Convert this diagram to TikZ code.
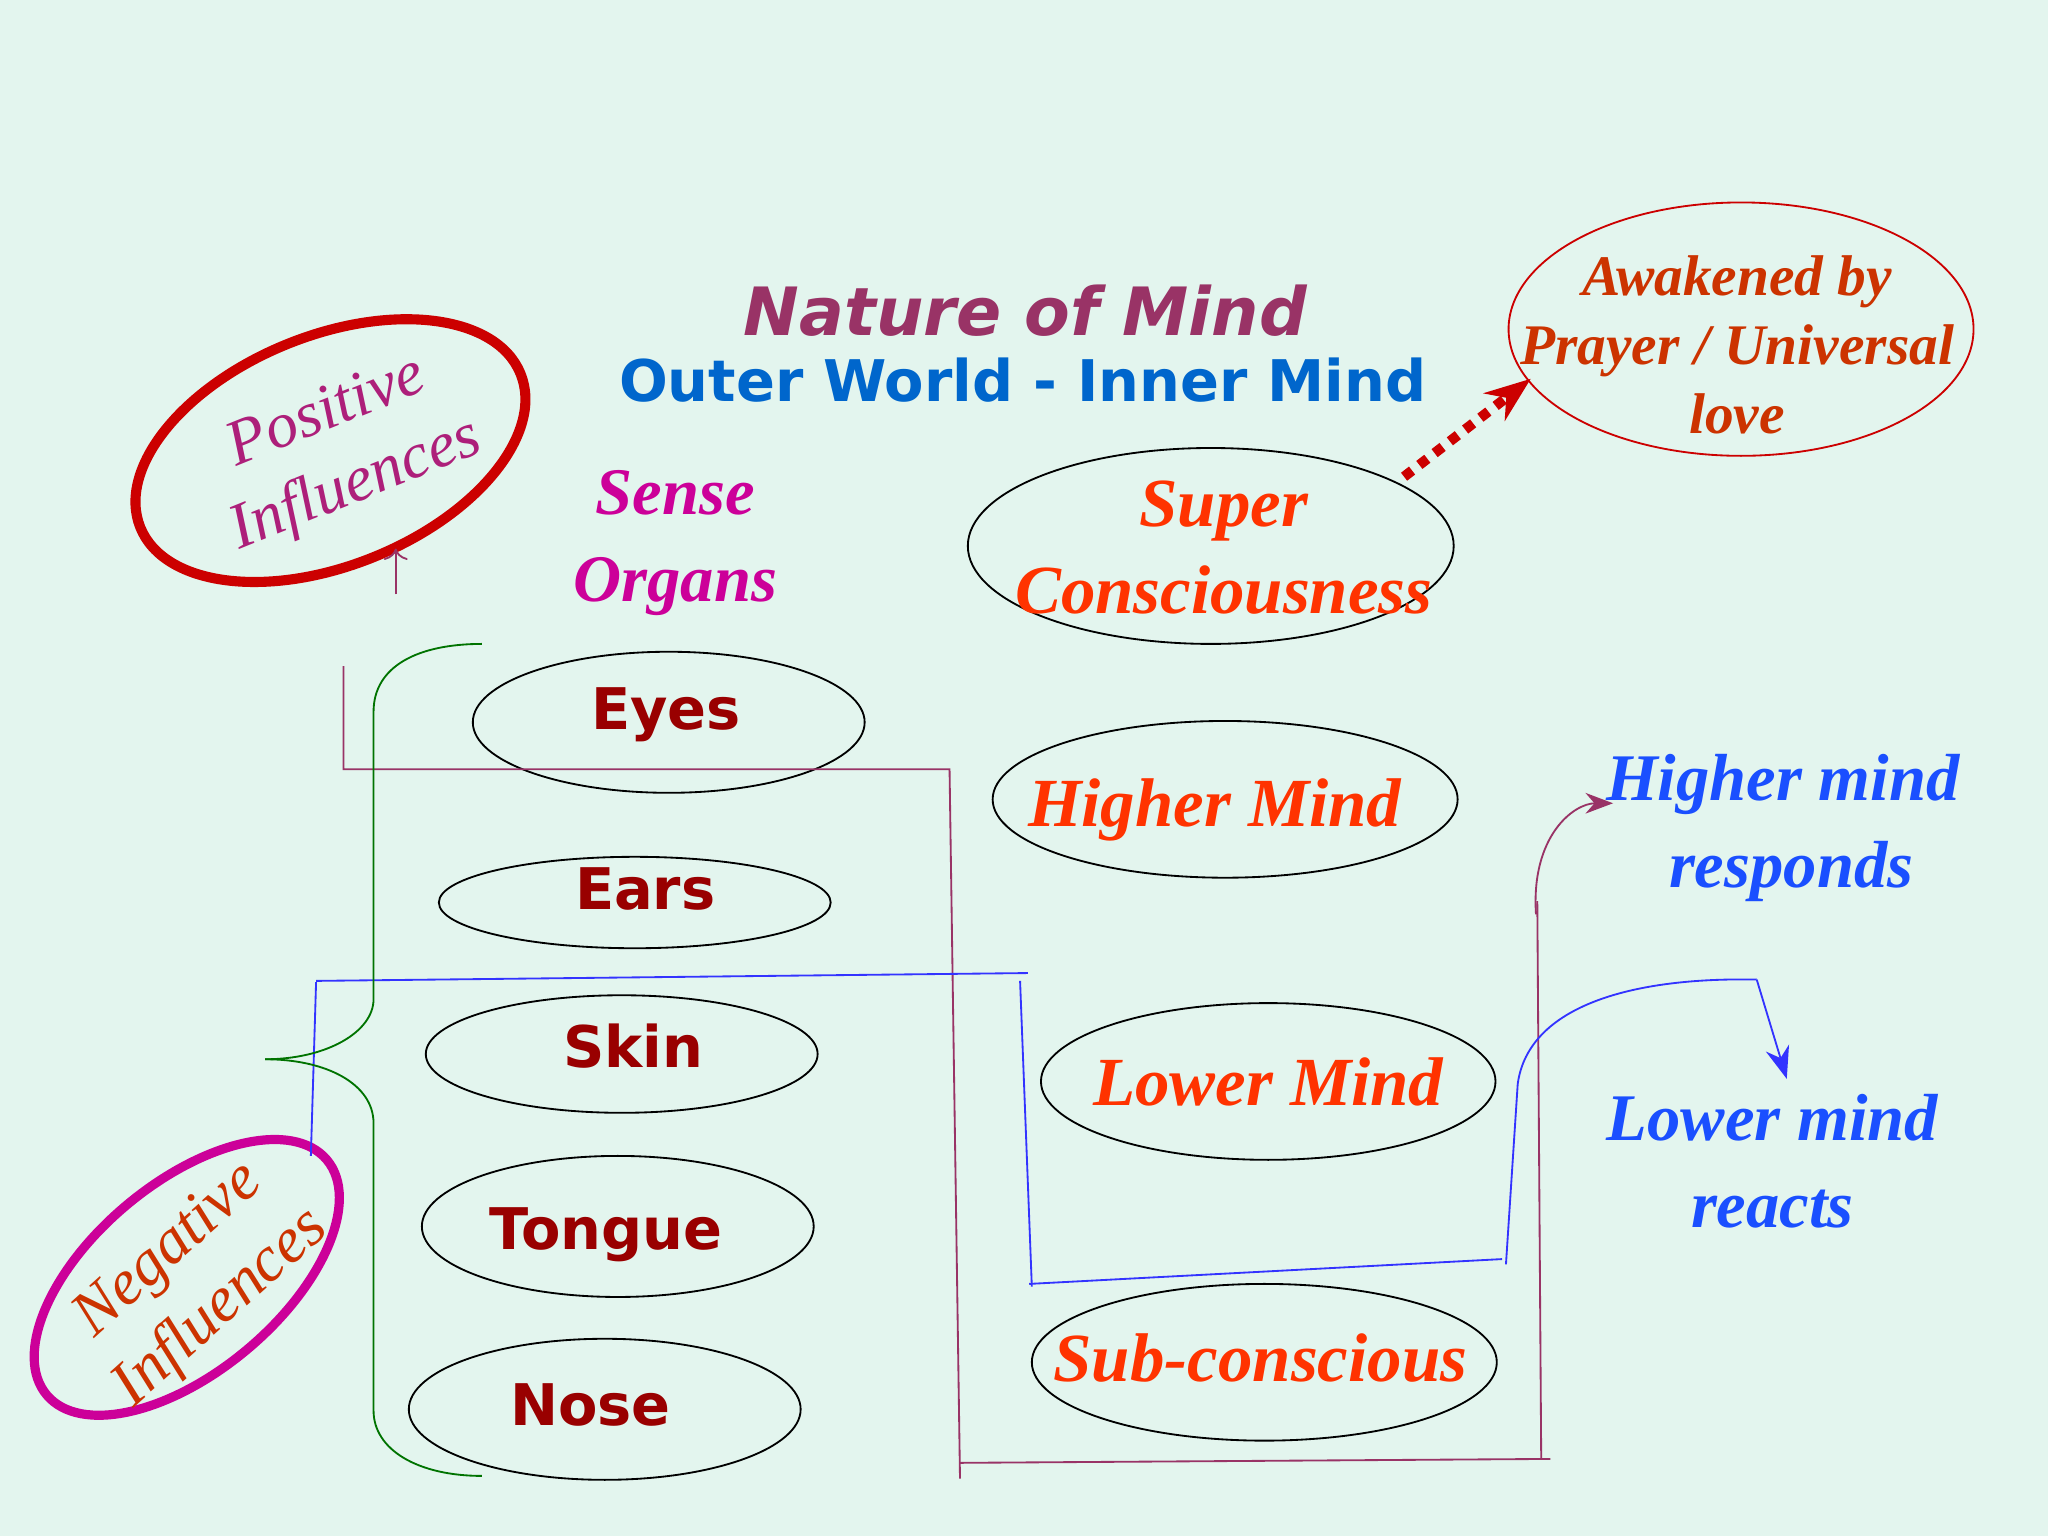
\documentclass[tikz,border=0pt]{standalone}
\usepackage{fontspec}
\setmainfont{Liberation Serif}
\newfontfamily\dv{DejaVu Sans}
\usetikzlibrary{arrows.meta}
\definecolor{bg}{HTML}{E3F5EE}
\definecolor{ttl}{HTML}{993366}
\definecolor{sub}{HTML}{0066CC}
\definecolor{org}{HTML}{990000}
\definecolor{mind}{HTML}{FF3300}
\definecolor{resp}{HTML}{1A4FFF}
\definecolor{awk}{HTML}{CC3300}
\definecolor{sens}{HTML}{CC0099}
\begin{document}
\begin{tikzpicture}[x=0.01cm,y=-0.01cm,
  organ/.style={font=\dv\bfseries\fontsize{12.5}{14}\selectfont,text=org},
  mindt/.style={font=\bfseries\itshape\fontsize{15}{18}\selectfont,text=mind},
  respt/.style={font=\bfseries\itshape\fontsize{14.5}{18}\selectfont,text=resp,align=center},
]
\fill[bg] (0,0) rectangle (1568,1176);
\useasboundingbox (0,0) rectangle (1568,1176);
% ellipses
\draw[draw=red!80!black,line width=2.2pt,rotate around={22:(253,345)}] (253,345) ellipse [x radius=157,y radius=88];
\draw[draw=sens,line width=2pt,rotate around={40:(143,978)}] (143,978) ellipse [x radius=140,y radius=72];
\draw[draw=red!80!black,thin] (1333,252) ellipse [x radius=178,y radius=97];
\draw[thin] (927,418) ellipse [x radius=186,y radius=75];
\draw[thin] (938,612) ellipse [x radius=178,y radius=60];
\draw[thin] (971,828) ellipse [x radius=174,y radius=60];
\draw[thin] (968,1043) ellipse [x radius=178,y radius=60];
\draw[thin] (512,553) ellipse [x radius=150,y radius=54];
\draw[thin] (486,691) ellipse [x radius=150,y radius=35];
\draw[thin] (476,807) ellipse [x radius=150,y radius=45];
\draw[thin] (473,939) ellipse [x radius=150,y radius=54];
\draw[thin] (463,1079) ellipse [x radius=150,y radius=54];
% texts
\node[font=\dv\bfseries\itshape\fontsize{14.5}{18}\selectfont,text=ttl] (t1) at (785,238) {Nature of Mind};
\node[font=\dv\bfseries\fontsize{12.5}{16}\selectfont,text=sub] (t2) at (783,291) {Outer World - Inner Mind};
\node[font=\bfseries\itshape\fontsize{14.5}{18}\selectfont,text=sens,align=center] (so) at (517,416) {Sense\\[1pt]Organs};
\node[mindt,align=center] (sc) at (937,419) {Super\\[1pt]Consciousness};
\node[mindt] (hm) at (930,620) {Higher Mind};
\node[mindt] (lm) at (971,828) {Lower Mind};
\node[mindt] (su) at (965,1040) {Sub-conscious};
\node[respt] (hr) at (1365,634) {Higher mind\\[1pt]\ responds};
\node[respt] (lr) at (1357,889) {Lower mind\\[1pt]reacts};
\node[font=\bfseries\itshape\fontsize{12.5}{15}\selectfont,text=awk,align=center] (aw) at (1330,264) {Awakened by\\[0pt]Prayer / Universal\\[0pt]love};
\node[organ] (ey) at (510,547) {Eyes};
\node[organ] (ea) at (494,681) {Ears};
\node[organ] (sk) at (485,801) {Skin};
\node[organ] (to) at (464,945) {Tongue};
\node[organ] (no) at (452,1076) {Nose};
\node[font=\itshape\fontsize{14}{17}\selectfont,text=ttl!60!sens,align=center,rotate=22] (pi) at (262,345) {Positive\\Influences};
\node[font=\itshape\fontsize{14}{17}\selectfont,text=awk,align=center,rotate=42] (ni) at (150,980) {Negative\\Influences};
% purple lines
\draw[ttl,thin] (263,510) -- (263,589) -- (727,589) -- (735,1132);
\draw[ttl,thin] (735,1120) -- (1187,1117);
\draw[ttl,thin] (1180,1117) -- (1177,690);
\draw[ttl,thin,-{Stealth[length=6pt]}] (1176,700) .. controls (1172,640) and (1205,615) .. (1235,615);
\draw[ttl,thin,->] (303,455) -- (303,420);
% blue lines
\draw[blue!80,thin] (242,751) -- (787,745);
\draw[blue!80,thin] (242,752) -- (238,885);
\draw[blue!80,thin] (781,751) -- (790,985);
\draw[blue!80,thin] (788,983) -- (1150,964);
\draw[blue!80,thin] (1153,968) -- (1162,830) .. controls (1170,770) and (1250,748) .. (1345,750);
\draw[blue!80,thin,-{Stealth[length=7pt]}] (1345,750) -- (1368,826);
% green brace
\draw[green!45!black,thin] (369,493) .. controls (320,493) and (286,510) .. (286,545) -- (286,765) .. controls (286,790) and (250,811) .. (203,811);
\draw[green!45!black,thin] (203,811) .. controls (250,811) and (286,830) .. (286,860) -- (286,1080) .. controls (286,1110) and (320,1130) .. (369,1130);
% dotted arrow
\draw[red!80!black,line width=2.2pt,dotted,-{Stealth[length=10pt]}] (1075,365) -- (1172,290);
\end{tikzpicture}
\end{document}
